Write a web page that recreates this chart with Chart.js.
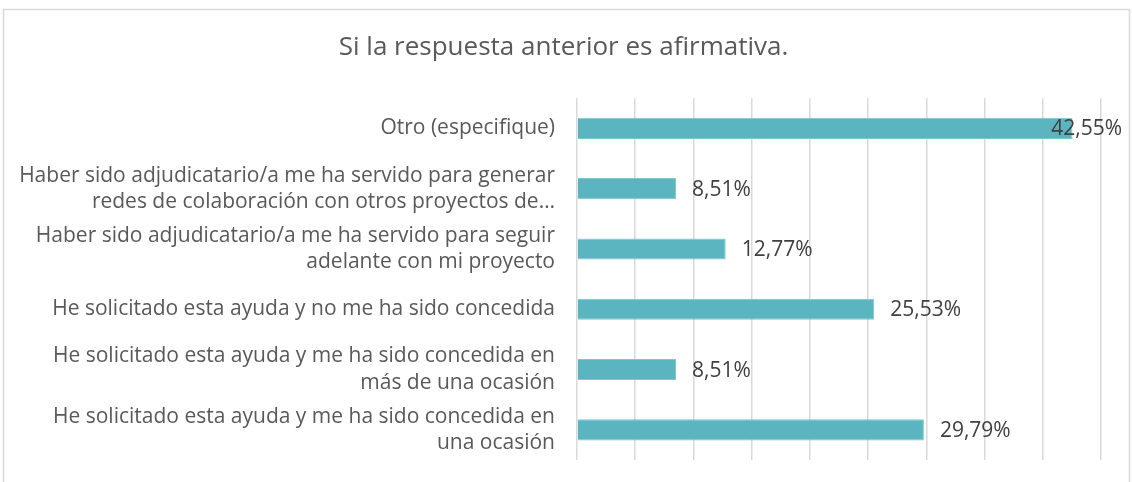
<!DOCTYPE html>
<html>
<head>
<meta charset="utf-8">
<script src="https://cdn.jsdelivr.net/npm/chart.js@4/dist/chart.umd.min.js"></script>
<style>
  html, body { margin: 0; padding: 0; background: #ffffff; }
  #wrap { position: relative; width: 1132px; height: 482px; }
</style>
</head>
<body>
<div id="wrap"><canvas id="c" width="1132" height="482"></canvas></div>
<script>
const titleText = "Si la respuesta anterior es afirmativa.";
const categories = [
  ["Otro (especifique)"],
  ["Haber sido adjudicatario/a me ha servido para generar", "redes de colaboración con otros proyectos de…"],
  ["Haber sido adjudicatario/a me ha servido para seguir", "adelante con mi proyecto"],
  ["He solicitado esta ayuda y no me ha sido concedida"],
  ["He solicitado esta ayuda y me ha sido concedida en", "más de una ocasión"],
  ["He solicitado esta ayuda y me ha sido concedida en", "una ocasión"]
];
const values = [42.55, 8.51, 12.77, 25.53, 8.51, 29.79];
const axisMin = 0;
const axisMax = 45;
const axisStep = 5;

const FONT = "'Open Sans', 'Noto Sans', sans-serif";

const frame = {
  id: 'frame',
  beforeDraw(chart) {
    const ctx = chart.ctx;
    ctx.save();
    ctx.strokeStyle = '#d9d9d9';
    ctx.lineWidth = 1.5;
    ctx.strokeRect(3.5, 9.5, 1126, 490);
    ctx.restore();
  }
};

const titleShift = {
  id: 'titleShift',
  afterLayout(chart) {
    const tb = chart.titleBlock;
    if (tb) { tb.left = 26; tb.right = chart.chartArea.right; }
  }
};

const dataLabels = {
  id: 'dataLabels',
  afterDatasetsDraw(chart) {
    const ctx = chart.ctx;
    const meta = chart.getDatasetMeta(0);
    ctx.save();
    ctx.font = "21px " + FONT;
    ctx.fillStyle = '#404040';
    ctx.textBaseline = 'middle';
    ctx.textAlign = 'left';
    const limit = chart.chartArea.right + 21;
    meta.data.forEach((el, i) => {
      const txt = values[i].toFixed(2).replace('.', ',') + '%';
      const w = ctx.measureText(txt).width;
      let x = el.x + 16;
      if (x + w > limit) x = limit - w;
      ctx.fillText(txt, x, el.y + 1);
    });
    ctx.restore();
  }
};

new Chart(document.getElementById('c'), {
  type: 'bar',
  data: {
    labels: categories,
    datasets: [{
      data: values,
      backgroundColor: '#5ab5c0',
      borderColor: '#7fc6ce',
      borderWidth: 1,
      barPercentage: 0.7,
      categoryPercentage: 0.5
    }]
  },
  options: {
    indexAxis: 'y',
    responsive: false,
    animation: false,
    devicePixelRatio: 1,
    layout: { padding: { left: 0, right: 31, top: 0, bottom: 22 } },
    plugins: {
      legend: { display: false },
      tooltip: { enabled: false },
      title: {
        display: true,
        text: titleText,
        color: '#595959',
        font: { family: FONT, size: 26, weight: 'normal', lineHeight: 1.2 },
        padding: { top: 32, bottom: 35 }
      }
    },
    scales: {
      x: {
        min: axisMin,
        max: axisMax,
        ticks: { stepSize: axisStep, display: false },
        grid: { color: '#d9d9d9', lineWidth: 1.5, drawTicks: false },
        border: { display: false },
        afterFit(scale) { scale.height = 0; scale.paddingLeft = 0; scale.paddingRight = 0; }
      },
      y: {
        ticks: {
          color: '#595959',
          font: { family: FONT, size: 21, lineHeight: 1.25 },
          padding: 22,
          autoSkip: false
        },
        grid: { display: false, drawTicks: false },
        border: { display: false },
        afterFit(scale) { scale.width = 577; scale.paddingTop = 0; scale.paddingBottom = 0; }
      }
    }
  },
  plugins: [frame, titleShift, dataLabels]
});
</script>
</body>
</html>
